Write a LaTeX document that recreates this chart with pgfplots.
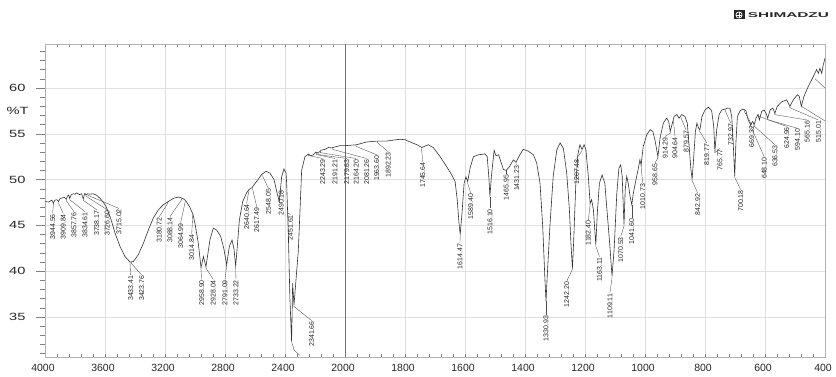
\documentclass[border=0pt]{standalone}
\usepackage{fontspec}
\setmainfont{Liberation Sans}
\usepackage{pgfplots}
\pgfplotsset{compat=1.18}
\tikzset{
  leader/.style={draw=black!70, line width=0.35bp},
  plabel/.style={rotate=90, anchor=east, inner sep=0.6bp, text=black!85, font=\fontsize{7}{8}\selectfont},
}
\begin{document}
\begin{tikzpicture}[x=1bp,y=1bp]
\useasboundingbox (0,0) rectangle (836,376);
% y axis (ticks outside)
\begin{axis}[
  at={(45bp,19bp)}, anchor=south west,
  scale only axis, width=780bp, height=313bp,
  xmin=0, xmax=1, ymin=30.63, ymax=64.8,
  hide x axis, axis y line*=left,
  y axis line style={draw=black!30, line width=0.5bp},
  ytick={30,35,40,45,50,55,60,65}, minor y tick num=4,
  tick align=outside, major tick length=9bp, minor tick length=5bp,
  tick style={draw=black!50, line width=0.4bp},
  /pgf/number format/assume math mode=true,
  yticklabel style={font=\fontsize{10.5}{12}\selectfont, text=black!85, xscale=1.4, xshift=-4bp},
]
\end{axis}
% main axis
\begin{axis}[
  at={(45bp,19bp)}, anchor=south west,
  scale only axis, width=780bp, height=313bp,
  x coord trafo/.code={\pgfmathparse{(4000-max(#1,2000))/400+(2000-min(#1,2000))/200}},
  xmin=4000, xmax=400, ymin=30.63, ymax=64.8,
  xtick={4000,3600,3200,2800,2400,2000,1800,1600,1400,1200,1000,800,600,400},
  xticklabels={4000,3600,3200,2800,2400,2000,1800,1600,1400,1200,1000,800,600,400},
  minor x tick num=4,
  ytick={35,40,45,50,55,60}, yticklabels={}, ytick style={draw=none},
  xmajorgrids, ymajorgrids,
  grid style={draw=black!12, line width=0.5bp},
  axis line style={draw=black!30, line width=0.5bp},
  tick align=inside, major tick length=3bp, minor tick length=3bp,
  tick style={draw=black!50, line width=0.4bp},
  xticklabel style={font=\fontsize{10.5}{12}\selectfont, text=black!85, yshift=-4bp, xshift=-2bp},
  clip=true,
]
\draw[black!55, line width=0.6bp] (axis cs:2000,30.63) -- (axis cs:2000,64.8);
\addplot[black!80, line width=0.6bp] table {
x y
4000 47.6
3975 47.55
3955 47.75
3944 47.45
3935 47.75
3920 47.8
3910 47.6
3900 47.9
3885 48.0
3870 48.05
3858 47.85
3850 48.2
3842 48.3
3835 47.95
3825 48.35
3810 48.45
3800 48.4
3789 48.55
3770 48.35
3756 48.45
3745 47.9
3735 48.5
3727 48.35
3715 48.45
3700 48.4
3680 48.45
3656 48.3
3633 47.95
3610 47.5
3593 47.05
3567 46.0
3550 45.1
3533 44.15
3500 42.7
3467 41.6
3433 41.0
3411 41.05
3378 41.8
3344 43.05
3311 44.5
3278 45.8
3244 46.7
3211 47.25
3178 47.6
3144 47.95
3111 48.1
3100 48.05
3078 47.9
3065 47.75
3051 47.4
3035 47.0
3022 46.5
3015 46.3
3000 45.2
2978 43.05
2960 40.4
2944 41.6
2927 40.5
2900 43.45
2878 44.7
2856 44.5
2829 43.8
2807 42.4
2789 40.7
2771 42.7
2753 43.4
2740 42.4
2729 40.55
2718 42.7
2704 45.6
2682 47.6
2656 48.55
2640 48.9
2622 49.1
2589 49.8
2556 50.55
2527 50.9
2500 50.7
2473 50.0
2451 48.4
2438 47.6
2422 50.35
2407 51.15
2393 50.7
2389 49.6
2378 44.2
2367 36.9
2356 32.3
2349 38.7
2340 36.3
2311 42.3
2289 51.0
2267 52.5
2244 52.8
2230 52.6
2211 52.7
2195 53.0
2178 52.9
2160 53.2
2133 53.3
2110 53.5
2089 53.45
2060 53.6
2033 53.7
2000 53.7
1980 53.75
1961 53.8
1940 54.0
1928 54.1
1894 54.2
1861 54.2
1840 54.3
1817 54.4
1800 54.35
1783 54.1
1760 53.8
1744 53.5
1730 53.7
1722 53.8
1706 53.5
1683 52.5
1661 51.4
1644 50.5
1633 49.8
1626 47.8
1620 45.25
1616 44.0
1610 46.35
1603 49.6
1597 50.3
1591 49.8
1583 51.25
1572 52.5
1556 52.7
1533 52.8
1526 52.5
1520 50.0
1517 48.15
1512 50.35
1503 53.2
1497 52.6
1488 52.7
1481 52.0
1472 51.1
1463 51.0
1452 51.4
1439 52.15
1430 51.9
1419 52.6
1406 53.3
1389 53.1
1372 52.7
1361 51.8
1350 49.6
1341 44.9
1334 39.4
1330 36.7
1326 39.4
1317 44.9
1306 50.35
1294 53.25
1283 54.0
1272 53.4
1261 50.7
1252 46.7
1247 43.1
1242 40.35
1238 43.1
1231 49.25
1224 52.7
1217 53.8
1210 53.3
1203 53.8
1197 53.25
1189 50.35
1183 47.4
1178 47.8
1172 46.7
1164 42.9
1159 46.35
1152 49.6
1143 50.5
1134 49.6
1126 46.35
1117 42.7
1110 39.45
1103 42.35
1094 48.5
1087 51.25
1081 51.6
1076 50.35
1072 46.7
1070 45.1
1066 48.9
1061 50.35
1056 49.6
1050 48.2
1044 47.25
1039 48.5
1030 50.0
1022 51.25
1017 52.15
1013 51.6
1006 53.6
994 54.9
983 55.45
974 55.25
967 54.35
961 53.25
957 52.5
950 54.5
939 56.15
928 56.7
921 56.35
916 55.25
910 56.0
903 56.9
894 57.1
886 56.7
878 57.1
867 56.9
859 56.15
852 53.25
847 51.1
843 50.05
839 51.8
832 55.25
827 56.15
821 55.6
817 55.45
810 56.9
800 57.6
789 57.9
778 57.55
771 55.8
767 53.1
761 55.45
753 57.1
744 57.6
733 57.7
724 57.8
717 57.8
711 56.9
706 54.0
701 50.4
697 54.0
692 56.9
683 57.5
674 57.7
664 57.55
656 56.5
648 56.0
641 56.35
636 56.0
630 56.7
623 57.1
619 56.5
611 57.45
603 57.6
597 57.25
591 56.7
583 57.6
574 57.8
567 57.25
559 58.0
544 58.5
528 58.7
517 58.0
506 58.7
492 59.25
486 59.1
479 58.0
470 59.1
456 60.15
439 61.25
428 62.0
422 61.6
417 62.15
411 61.6
406 62.5
400 63.25
};
\foreach \pw/\py/\lw/\ly/\tx in {
 3944/47.45/3949/46.3/3944.56,
 3910/47.6/3878/46.3/3909.84,
 3858/47.85/3807/46.5/3857.76,
 3835/47.95/3733/46.5/3834.61,
 3745/47.9/3655/46.7/3738.17,
 3727/48.35/3585/46.7/3726.60,
 3715/48.45/3507/46.85/3715.02,
 3433/41.0/3429/39.6/3433.41,
 3424/41.0/3356/39.6/3423.76,
 3181/47.6/3238/45.95/3180.72,
 3088/48.0/3167/45.95/3088.14,
 3065/47.75/3096/45.3/3064.99,
 3015/46.3/3022/44.05/3014.84,
 2960/40.4/2956/39.1/2958.90,
 2927/40.5/2878/39.1/2928.04,
 2789/40.7/2800/39.1/2791.09,
 2729/40.55/2727/39.1/2733.22,
 2641/48.9/2656/47.4/2640.64,
 2617/49.2/2589/47.05/2617.49,
 2548/50.5/2511/49.05/2548.05,
 2440/47.8/2425/48.9/2490.18,
 2385/46.5/2363/46.2/2451.61,
 2340/36.3/2222/34.6/2341.66,
 2244/52.8/2149/52.3/2243.29,
 2191/52.9/2067/52.3/2191.21,
 2180/52.9/1994/52.3/2179.63,
 2164/53.1/1963/52.3/2164.20,
 2081/53.45/1928/52.3/2081.26,
 1964/53.8/1894/52.7/1963.60,
 1892/54.2/1856/53.05/1892.23,
 1745/53.5/1741/51.95/1745.64,
 1616/44.0/1617/43.05/1614.47,
 1591/49.8/1581/48.5/1589.40,
 1517/48.15/1517/46.85/1516.10,
 1463/51.0/1463/50.6/1465.95,
 1430/51.9/1428/51.6/1431.23,
 1330/36.7/1330/35.2/1330.93,
 1242/40.35/1261/38.9/1242.20,
 1210/53.3/1228/52.3/1207.48,
 1183/47.4/1189/45.6/1182.40,
 1164/42.9/1152/41.6/1163.11,
 1110/39.45/1117/37.6/1109.11,
 1070/45.1/1081/43.8/1070.53,
 1044/47.25/1044/45.8/1041.60,
 1013/51.6/1008/49.6/1010.73,
 957/52.5/967/51.8/958.65,
 916/55.25/933/54.7/914.29,
 905/56.5/900/54.7/904.64,
 880/56.9/863/55.4/879.57,
 843/50.05/824/48.5/842.92,
 819/55.5/794/54.0/819.77,
 767/53.1/750/53.4/765.77,
 733/57.7/714/56.15/732.97,
 701/50.4/681/48.9/700.18,
 669/57.6/644/55.95/669.32,
 648/56.0/603/52.5/648.10,
 636/56.0/567/53.8/636.53,
 623/57.1/528/55.8/624.96,
 591/56.7/492/55.6/594.10,
 567/57.25/459/56.5/565.16,
 517/58.0/422/56.5/515.01}{
  \edef\tmp{\noexpand\draw[leader] (axis cs:\pw,\py) -- ++(0pt,-1.5pt) -- (axis cs:\lw,\ly) node[plabel] {\tx};}
  \tmp
}
\draw[leader] (axis cs:479,58.0) -- (axis cs:400,56.4);
\draw[leader] (axis cs:433,61.0) -- (axis cs:400,60.0);
\draw[leader] (axis cs:2356,32.3) -- (axis cs:2340,31.4) -- (axis cs:2300,30.8);
\end{axis}
\node[font=\fontsize{10.5}{12}\selectfont, text=black!85, xscale=1.4] at (17.5,265) {\%T};
\fill[black!85] (733.5,356.5) rectangle (744.5,365.5);
\draw[white, line width=0.7bp] (739,361) circle (3.1);
\draw[white, line width=0.6bp] (739,357.9) -- (739,364.1) (735.9,361) -- (742.1,361);
\node[anchor=west, inner sep=0pt, xscale=2.2, font=\bfseries\fontsize{7}{8}\selectfont, text=black!85] at (747.5,361) {SHIMADZU};
\end{tikzpicture}
\end{document}
